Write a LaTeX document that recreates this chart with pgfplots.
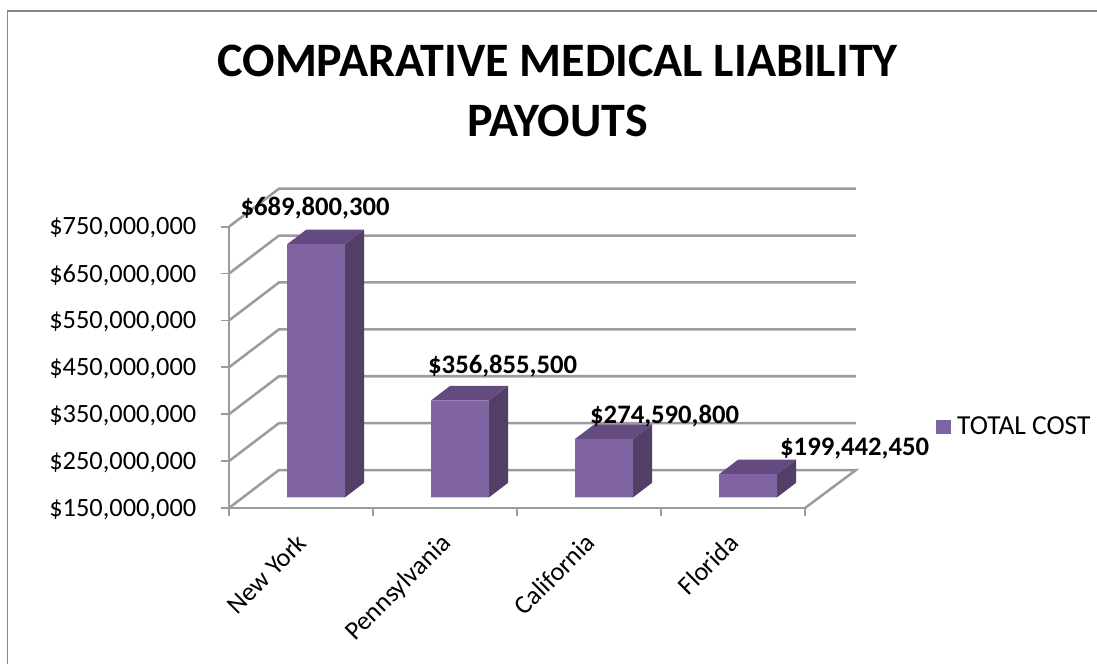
\documentclass[border=0pt]{standalone}
\usepackage{pgfplots}
\pgfplotsset{compat=1.18}
\usepackage{fontspec}
\setmainfont{Carlito}
\definecolor{barfront}{HTML}{8064A2}
\definecolor{barside}{HTML}{533E68}
\definecolor{bartop}{HTML}{634A80}
\definecolor{wall}{HTML}{9C9C9C}
\definecolor{frame}{HTML}{868686}
\begin{document}
\begin{tikzpicture}[x=1pt,y=1pt]
\useasboundingbox (0,0) rectangle (822.75,498);
\draw[frame,line width=1.3pt] (822.75,489.6) -- (5.6,489.6) -- (5.6,0);
% walls, floor, ticks
\begin{axis}[
  at={(171.75pt,117pt)},anchor=south west,
  scale only axis,width=432pt,height=211pt,
  xmin=-0.5,xmax=3.5,ymin=150000000,ymax=750000000,
  clip=false,
  scaled y ticks=false,
  axis x line*=bottom,axis y line*=left,
  axis line style={wall,line width=1.9pt,-},
  tick style={wall,line width=1.4pt},
  tick align=outside,
  major tick length=6pt,
  xtick={-0.5,0.5,1.5,2.5,3.5},
  xticklabels={},
  extra x ticks={0,1,2,3},
  extra x tick labels={New York,Pennsylvania,California,Florida},
  extra x tick style={major tick length=0pt,
    xticklabel style={rotate=45,anchor=north east,font=\fontsize{19.6}{20}\selectfont,xshift=-12.1pt,yshift=-6.2pt}},
  ytick={150000000,250000000,350000000,450000000,550000000,650000000,750000000},
  yticklabels={{\$150,000,000},{\$250,000,000},{\$350,000,000},{\$450,000,000},{\$550,000,000},{\$650,000,000},{\$750,000,000}},
  yticklabel style={font=\fontsize{19.8}{20}\selectfont,xshift=-15pt,yshift=-1pt},
  title={COMPARATIVE MEDICAL LIABILITY\\PAYOUTS},
  title style={at={(axis description cs:0.5705,1.454)},anchor=center,align=center,
    font=\fontsize{36}{45}\selectfont\bfseries},
]
\addplot[wall,line width=1.9pt,forget plot] coordinates {
 (-0.5,150000000) (-0.153,231000000) (3.854,231000000) (3.5,150000000)};
\addplot[wall,line width=1.9pt,forget plot] coordinates {(-0.5,250000000) (-0.153,331000000) (3.854,331000000)};
\addplot[wall,line width=1.9pt,forget plot] coordinates {(-0.5,350000000) (-0.153,431000000) (3.854,431000000)};
\addplot[wall,line width=1.9pt,forget plot] coordinates {(-0.5,450000000) (-0.153,531000000) (3.854,531000000)};
\addplot[wall,line width=1.9pt,forget plot] coordinates {(-0.5,550000000) (-0.153,631000000) (3.854,631000000)};
\addplot[wall,line width=1.9pt,forget plot] coordinates {(-0.5,650000000) (-0.153,731000000) (3.854,731000000)};
\addplot[wall,line width=1.9pt,forget plot] coordinates {(-0.5,750000000) (-0.153,831000000) (3.854,831000000)};
\end{axis}
% columns, on a plane set back from the front of the floor
\begin{axis}[
  at={(183.1pt,125pt)},anchor=south west,
  scale only axis,width=432pt,height=211pt,
  xmin=-0.5,xmax=3.5,ymin=150000000,ymax=750000000,
  hide axis,clip=false,
  legend style={at={(axis description cs:1.201,0.25)},anchor=west,draw=none,fill=none,
    font=\fontsize{20.6}{22}\selectfont,inner sep=0pt,outer sep=0pt},
  legend image code/.code={\fill[barfront] (0pt,-5.5pt) rectangle (11pt,5.5pt);},
]
\addplot[barside,fill=barside,draw=none,forget plot] coordinates {(0.201,150000000) (0.201,689800300) (0.333,720800300) (0.333,181000000)} --cycle;
\addplot[bartop,fill=bartop,draw=none,forget plot] coordinates {(-0.201,689800300) (0.201,689800300) (0.333,720800300) (-0.069,720800300)} --cycle;
\addplot[barside,fill=barside,draw=none,forget plot] coordinates {(1.201,150000000) (1.201,356855500) (1.333,387855500) (1.333,181000000)} --cycle;
\addplot[bartop,fill=bartop,draw=none,forget plot] coordinates {(0.799,356855500) (1.201,356855500) (1.333,387855500) (0.931,387855500)} --cycle;
\addplot[barside,fill=barside,draw=none,forget plot] coordinates {(2.201,150000000) (2.201,274590800) (2.333,305590800) (2.333,181000000)} --cycle;
\addplot[bartop,fill=bartop,draw=none,forget plot] coordinates {(1.799,274590800) (2.201,274590800) (2.333,305590800) (1.931,305590800)} --cycle;
\addplot[barside,fill=barside,draw=none,forget plot] coordinates {(3.201,150000000) (3.201,199442450) (3.333,230442450) (3.333,181000000)} --cycle;
\addplot[bartop,fill=bartop,draw=none,forget plot] coordinates {(2.799,199442450) (3.201,199442450) (3.333,230442450) (2.931,230442450)} --cycle;
\addplot[ybar,bar shift=0pt,bar width=43.5pt,fill=barfront,draw=none] coordinates {
 (0,689800300) (1,356855500) (2,274590800) (3,199442450)};
\addlegendentry{\hspace*{3pt}TOTAL COST}
\tikzset{lab/.style={font=\fontsize{20}{22}\selectfont\bfseries,inner sep=0pt}}
\node[lab,shift={(-0.75pt,27pt)}] at (axis cs:0,689800300) {\$689,800,300};
\node[lab,shift={(31.9pt,25.5pt)}] at (axis cs:1,356855500) {\$356,855,500};
\node[lab,shift={(45.4pt,17pt)}] at (axis cs:2,274590800) {\$274,590,800};
\node[lab,shift={(79.9pt,19.2pt)}] at (axis cs:3,199442450) {\$199,442,450};
\end{axis}
\end{tikzpicture}
\end{document}
